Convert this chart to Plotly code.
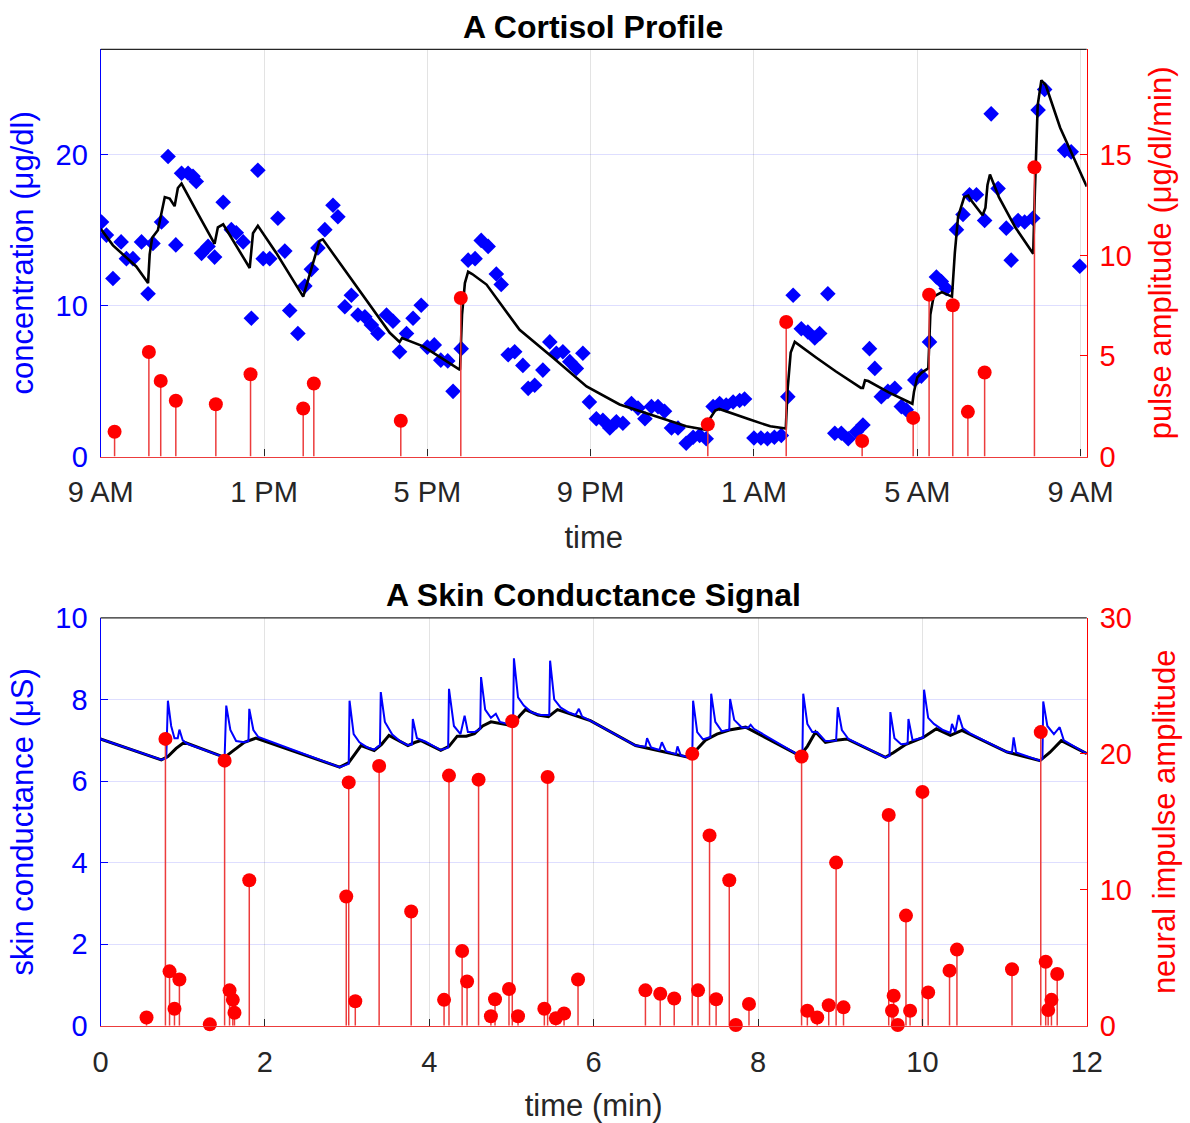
import plotly.graph_objects as go

# ---------------- Top panel data (hours after 9 AM) ----------------
cort_t = [0.02, 0.14, 0.30, 0.50, 0.63, 0.79, 1.00, 1.16, 1.28, 1.49, 1.65, 1.84, 1.98, 2.14, 2.26, 2.34,
          2.47, 2.63, 2.79, 3.00, 3.20, 3.32, 3.49, 3.69, 3.85, 3.98, 4.14, 4.34, 4.51, 4.63, 4.83, 5.00,
          5.16, 5.32, 5.49, 5.69, 5.81, 5.98, 6.14, 6.30, 6.47, 6.63, 6.79, 7.00, 7.16, 7.32, 7.49, 7.65,
          7.85, 8.00, 8.17, 8.33, 8.50, 8.63, 8.83, 9.00, 9.17, 9.32, 9.49, 9.69, 9.81, 9.98, 10.14, 10.34,
          10.47, 10.63, 10.83, 11.00, 11.16, 11.32, 11.49, 11.65, 11.81, 11.97, 12.14, 12.30, 12.47, 12.63,
          12.79, 13.00, 13.16, 13.33, 13.49, 13.65, 13.81, 13.98, 14.14, 14.34, 14.51, 14.67, 14.83, 15.00,
          15.16, 15.32, 15.49, 15.65, 15.77, 16.00, 16.17, 16.33, 16.50, 16.67, 16.83, 16.96, 17.16, 17.32,
          17.49, 17.61, 17.81, 17.98, 18.14, 18.31, 18.51, 18.67, 18.83, 18.96, 19.12, 19.28, 19.45, 19.61,
          19.73, 19.94, 20.10, 20.30, 20.47, 20.59, 20.71, 20.96, 21.12, 21.28, 21.45, 21.65, 21.81, 21.98,
          22.18, 22.30, 22.47, 22.63, 22.83, 22.96, 23.12, 23.61, 23.77, 23.98]
cort_c = [15.55, 14.68, 11.80, 14.23, 13.12, 13.12, 14.23, 10.79, 14.13, 15.55, 19.89, 14.03, 18.78, 18.78, 18.58, 18.23,
          13.47, 13.93, 13.22, 16.86, 15.04, 14.84, 14.23, 9.17, 18.98, 13.12, 13.12, 15.80, 13.62, 9.68, 8.16, 11.30,
          12.41, 13.83, 15.04, 16.66, 15.90, 9.93, 10.69, 9.38, 9.27, 8.72, 8.16, 9.38, 8.97, 6.95, 8.16, 9.17,
          10.03, 7.25, 7.40, 6.39, 6.34, 4.32, 7.15, 13.02, 13.12, 14.33, 13.93, 12.10, 11.40, 6.75, 6.95, 6.04,
          4.52, 4.72, 5.73, 7.60, 6.85, 6.95, 6.29, 5.84, 6.85, 3.61, 2.50, 2.40, 1.89, 2.30,
          2.20, 3.51, 3.21, 2.50, 3.31, 3.31, 3.00, 1.89, 1.89, 0.88, 1.28, 1.39, 1.18, 3.31,
          3.51, 3.41, 3.61, 3.71, 3.81, 1.23, 1.23, 1.18, 1.28, 1.39, 3.97, 10.69, 8.47, 8.26,
          7.86, 8.16, 10.79, 1.54, 1.54, 1.18, 1.64, 2.09, 7.15, 5.84, 3.97, 4.32, 4.52, 3.31,
          3.10, 5.08, 5.33, 7.60, 11.90, 11.60, 11.14, 15.04, 16.05, 17.36, 17.36, 15.65, 22.72, 17.77,
          15.14, 13.02, 15.65, 15.55, 15.80, 22.98, 24.34, 20.30, 20.20, 12.61]

fit_t = [0.00, 0.30, 0.87, 1.16, 1.20, 1.26, 1.40, 1.49, 1.57, 1.69, 1.81, 1.89, 1.98, 2.38, 2.79, 2.87,
         3.00, 3.65, 3.73, 3.85, 4.30, 4.96, 5.12, 5.36, 5.44, 6.26, 7.08, 7.32, 7.38, 7.90, 8.30, 8.80,
         8.85, 8.92, 9.00, 9.10, 9.45, 10.26, 11.08, 11.90, 12.71, 13.53, 14.34, 14.85, 14.92, 15.05, 15.15,
         15.90, 16.40, 16.78, 16.82, 16.90, 17.00, 17.53, 18.00, 18.62, 18.67, 18.72, 18.80, 19.30, 19.88,
         19.92, 20.00, 20.10, 20.27, 20.32, 20.40, 20.60, 20.85, 20.92, 21.00, 21.15, 21.25, 21.30, 21.60,
         21.67, 21.72, 21.78, 22.00, 22.40, 22.84, 22.88, 22.95, 23.04, 23.15, 23.50, 24.15]
fit_c = [15.10, 14.00, 12.60, 11.50, 13.40, 14.50, 15.00, 16.10, 17.20, 17.10, 16.60, 17.80, 18.10, 16.10, 14.10, 15.20,
         15.40, 12.50, 14.80, 15.30, 13.50, 10.60, 12.10, 14.30, 14.40, 11.30, 8.20, 7.60, 7.85, 7.30, 6.60, 5.75,
         9.40, 11.50, 12.25, 12.10, 11.40, 8.40, 6.55, 4.65, 3.45, 2.70, 2.00, 1.75, 2.50, 3.05, 3.15,
         2.45, 2.00, 1.85, 4.30, 6.90, 7.60, 6.55, 5.65, 4.55, 4.55, 5.05, 5.00, 4.25, 3.50,
         4.30, 5.25, 5.55, 5.85, 9.40, 10.60, 10.90, 10.60, 13.50, 15.90, 17.20, 17.30, 17.05, 16.00,
         16.50, 18.00, 18.70, 17.20, 15.20, 13.45, 17.50, 23.30, 24.95, 24.60, 21.80, 17.90]

pulse_t = [0.34, 1.18, 1.47, 1.84, 2.82, 3.67, 4.96, 5.22, 7.35, 8.82, 14.87, 16.79, 18.65, 19.90,
           20.29, 20.87, 21.24, 21.65, 22.87]
pulse_a = [1.23, 5.20, 3.76, 2.77, 2.60, 4.09, 2.39, 3.63, 1.78, 7.88, 1.60, 6.69, 0.77, 1.92,
           8.05, 7.52, 2.22, 4.18, 14.38]

hour_ticks = [0, 4, 8, 12, 16, 20, 24]
hour_labels = ["9 AM", "1 PM", "5 PM", "9 PM", "1 AM", "5 AM", "9 AM"]

# ---------------- Bottom panel data (minutes) ----------------
sc_t = [0.00, 0.74, 0.80, 0.82, 0.86, 0.90, 0.94, 0.96, 1.00, 1.05, 1.51, 1.53, 1.58, 1.65, 1.75, 1.80,
        1.81, 1.86, 1.92, 2.00, 2.91, 3.02, 3.03, 3.08, 3.15, 3.25, 3.33, 3.40, 3.41, 3.46, 3.55, 3.65,
        3.74, 3.79, 3.80, 3.85, 3.95, 4.14, 4.23, 4.24, 4.30, 4.38, 4.43, 4.47, 4.55, 4.62, 4.63, 4.68,
        4.75, 4.81, 4.86, 5.01, 5.02, 5.03, 5.08, 5.15, 5.25, 5.35, 5.46, 5.47, 5.52, 5.60, 5.70, 5.78,
        5.82, 5.86, 5.96, 6.51, 6.63, 6.65, 6.70, 6.80, 6.83, 6.88, 7.00, 7.02, 7.06, 7.16, 7.20, 7.21,
        7.26, 7.33, 7.42, 7.43, 7.48, 7.56, 7.65, 7.66, 7.71, 7.80, 7.88, 7.91, 7.95, 8.51, 8.54, 8.55,
        8.60, 8.66, 8.72, 8.82, 8.95, 8.97, 9.02, 9.10, 9.55, 9.60, 9.61, 9.66, 9.74, 9.82, 9.83, 9.88,
        9.98, 10.01, 10.02, 10.07, 10.14, 10.25, 10.34, 10.36, 10.40, 10.44, 10.49, 10.58, 11.03, 11.09,
        11.11, 11.14, 11.43, 11.46, 11.47, 11.52, 11.60, 11.67, 11.72, 11.85, 12.00]
sc_v = [7.03, 6.52, 6.56, 7.97, 7.35, 7.05, 7.05, 7.26, 7.00, 6.92, 6.58, 7.85, 7.25, 6.98, 6.95, 6.98,
        7.77, 7.25, 7.08, 7.02, 6.34, 6.42, 7.97, 7.15, 6.95, 6.82, 6.77, 6.88, 8.18, 7.45, 7.14, 6.97,
        6.88, 6.90, 7.52, 7.05, 6.97, 6.76, 6.82, 8.26, 7.35, 7.15, 7.60, 7.20, 7.20, 7.28, 8.55, 7.75,
        7.55, 7.65, 7.45, 7.37, 7.40, 9.01, 8.05, 7.85, 7.68, 7.62, 7.62, 8.95, 8.00, 7.80, 7.68, 7.62,
        7.77, 7.58, 7.48, 6.87, 6.84, 7.05, 6.82, 6.76, 6.95, 6.73, 6.66, 6.85, 6.63, 6.58, 6.62, 7.97,
        7.20, 7.02, 7.08, 8.14, 7.45, 7.22, 7.26, 8.01, 7.50, 7.32, 7.31, 7.38, 7.28, 6.62, 6.66, 8.14,
        7.40, 7.20, 7.20, 6.98, 6.99, 7.81, 7.25, 7.03, 6.58, 6.62, 7.69, 7.05, 6.90, 6.92, 7.52, 7.00,
        7.05, 7.07, 8.24, 7.55, 7.40, 7.25, 7.18, 7.40, 7.20, 7.62, 7.30, 7.17, 6.71, 6.70,
        7.07, 6.70, 6.50, 6.55, 7.95, 7.35, 7.15, 7.32, 7.00, 6.85, 6.67]

scfit_t = [0.00, 0.74, 0.82, 0.92, 1.02, 1.51, 1.60, 1.75, 1.89, 2.91, 3.02, 3.17, 3.33, 3.42, 3.51, 3.74,
           3.83, 3.90, 4.14, 4.24, 4.34, 4.45, 4.55, 4.65, 4.75, 4.85, 5.01, 5.10, 5.17, 5.32, 5.45, 5.56,
           5.75, 5.96, 6.51, 7.16, 7.22, 7.36, 7.50, 7.65, 7.85, 8.51, 8.60, 8.70, 8.82, 8.95, 9.08, 9.55,
           9.65, 9.80, 10.01, 10.17, 10.34, 10.48, 11.03, 11.43, 11.55, 11.69, 12.00]
scfit_v = [7.03, 6.52, 6.60, 6.80, 6.95, 6.58, 6.72, 6.95, 7.05, 6.34, 6.45, 6.87, 6.75, 6.90, 7.12, 6.87,
           6.95, 6.99, 6.75, 6.85, 7.10, 7.10, 7.16, 7.35, 7.45, 7.42, 7.36, 7.60, 7.75, 7.62, 7.58, 7.75,
           7.62, 7.48, 6.87, 6.58, 6.70, 7.00, 7.15, 7.25, 7.32, 6.62, 6.85, 7.20, 6.95, 7.00, 7.03, 6.58,
           6.70, 6.90, 7.07, 7.28, 7.12, 7.24, 6.71, 6.50, 6.70, 6.99, 6.67]

imp_t = [0.56, 0.79, 0.84, 0.90, 0.96, 1.33, 1.51, 1.57, 1.61, 1.63, 1.81, 2.99, 3.02, 3.10, 3.39, 3.78,
         4.18, 4.24, 4.40, 4.46, 4.60, 4.75, 4.80, 4.97, 5.01, 5.08, 5.40, 5.44, 5.54, 5.64, 5.81, 6.63,
         6.81, 6.98, 7.20, 7.27, 7.41, 7.49, 7.65, 7.73, 7.89, 8.53, 8.60, 8.72, 8.86, 8.95, 9.04, 9.59,
         9.63, 9.65, 9.70, 9.80, 9.85, 10.00, 10.07, 10.33, 10.42, 11.09, 11.44, 11.50, 11.53, 11.57, 11.64]
imp_a = [0.60, 21.1, 4.00, 1.25, 3.40, 0.10, 19.5, 2.60, 1.90, 0.95, 10.7, 9.50, 17.9, 1.80, 19.1, 8.40,
         1.90, 18.4, 5.50, 3.25, 18.1, 0.70, 1.95, 2.70, 22.4, 0.70, 1.25, 18.3, 0.55, 0.90, 3.40, 2.60,
         2.35, 2.00, 20.0, 2.60, 14.0, 1.95, 10.7, 0.05, 1.60, 19.8, 1.10, 0.60, 1.50, 12.0, 1.35, 15.5,
         1.10, 2.20, 0.05, 8.10, 1.10, 17.2, 2.45, 4.05, 5.60, 4.15, 21.6, 4.70, 1.15, 1.90, 3.80]

# ---------------- styling ----------------
BLUE = "#0000ff"
RED = "#ff0000"
STEM = "rgb(236,60,60)"
DARK = "#262626"
FONT = "Liberation Sans, Arial, Helvetica, sans-serif"
TICK = 29
LAB = 31
TTL = 32


def stem_xy(xs, ys):
    sx, sy = [], []
    for x, y in zip(xs, ys):
        sx += [x, x, None]
        sy += [0, y, None]
    return sx, sy


fig = go.Figure()

# top panel
fig.add_trace(go.Scatter(x=cort_t, y=cort_c, mode="markers", xaxis="x", yaxis="y",
                         marker=dict(symbol="diamond", size=12, color=BLUE, line=dict(width=0)),
                         showlegend=False))
fig.add_trace(go.Scatter(x=fit_t, y=fit_c, mode="lines", xaxis="x", yaxis="y",
                         line=dict(color="black", width=2.6), showlegend=False))
px_, py_ = stem_xy(pulse_t, pulse_a)
fig.add_trace(go.Scatter(x=px_, y=py_, mode="lines", xaxis="x", yaxis="y2",
                         line=dict(color=STEM, width=1.5), showlegend=False))
fig.add_trace(go.Scatter(x=pulse_t, y=pulse_a, mode="markers", xaxis="x", yaxis="y2",
                         marker=dict(size=14, color=RED), cliponaxis=False, showlegend=False))

# bottom panel
fig.add_trace(go.Scatter(x=scfit_t, y=scfit_v, mode="lines", xaxis="x2", yaxis="y3",
                         line=dict(color="black", width=3), showlegend=False))
fig.add_trace(go.Scatter(x=sc_t, y=sc_v, mode="lines", xaxis="x2", yaxis="y3",
                         line=dict(color=BLUE, width=2), showlegend=False))
ix_, iy_ = stem_xy(imp_t, imp_a)
fig.add_trace(go.Scatter(x=ix_, y=iy_, mode="lines", xaxis="x2", yaxis="y4",
                         line=dict(color=STEM, width=1.5), showlegend=False))
fig.add_trace(go.Scatter(x=imp_t, y=imp_a, mode="markers", xaxis="x2", yaxis="y4",
                         marker=dict(size=14, color=RED), cliponaxis=False, showlegend=False))

W, H = 1190, 1123
top_x = [100.7 / W, 1086.7 / W]
top_y = [1 - 456.5 / H, 1 - 49.3 / H]
bot_x = [100.5 / W, 1086.8 / W]
bot_y = [1 - 1025.7 / H, 1 - 617.9 / H]

xcommon = dict(showline=True, linecolor=STEM, linewidth=1.2, ticks="inside", ticklen=7,
               tickcolor=DARK, showgrid=True, gridcolor="rgba(38,38,38,0.13)", gridwidth=1,
               zeroline=False, tickfont=dict(family=FONT, size=TICK, color=DARK),
               ticklabelstandoff=10, automargin=False)
yleft = dict(showline=True, linecolor=BLUE, linewidth=1.2, ticks="inside", ticklen=7,
             tickcolor=BLUE, showgrid=True, gridcolor="rgba(0,0,255,0.13)", gridwidth=1,
             zeroline=False, tickfont=dict(family=FONT, size=TICK, color=BLUE),
             ticklabelstandoff=6, automargin=False)
yright = dict(showline=True, linecolor=RED, linewidth=1.2, ticks="inside", ticklen=7,
              tickcolor=RED, showgrid=False, zeroline=False,
              tickfont=dict(family=FONT, size=TICK, color=RED), ticklabelstandoff=6,
              automargin=False)

fig.update_layout(
    width=W, height=H, margin=dict(l=0, r=0, t=0, b=0),
    paper_bgcolor="white", plot_bgcolor="white",
    font=dict(family=FONT),
    xaxis=dict(domain=top_x, anchor="y", range=[0, 24.15], tickvals=hour_ticks, ticktext=hour_labels,
               title=dict(text="time", font=dict(size=LAB, color=DARK), standoff=18), **xcommon),
    yaxis=dict(domain=top_y, anchor="x", range=[0, 27], tickvals=[0, 10, 20],
               title=dict(text="concentration (μg/dl)", font=dict(size=LAB, color=BLUE), standoff=12), **yleft),
    yaxis2=dict(overlaying="y", anchor="x", side="right", range=[0, 20.25], tickvals=[0, 5, 10, 15],
                title=dict(text="pulse amplitude (μg/dl/min)", font=dict(size=LAB, color=RED), standoff=18), **yright),
    xaxis2=dict(domain=bot_x, anchor="y3", range=[0, 12], tickvals=[0, 2, 4, 6, 8, 10, 12],
                title=dict(text="time (min)", font=dict(size=LAB, color=DARK), standoff=18), **xcommon),
    yaxis3=dict(domain=bot_y, anchor="x2", range=[0, 10], tickvals=[0, 2, 4, 6, 8, 10],
                title=dict(text="skin conductance (μS)", font=dict(size=LAB, color=BLUE), standoff=12), **yleft),
    yaxis4=dict(overlaying="y3", anchor="x2", side="right", range=[0, 30], tickvals=[0, 10, 20, 30],
                title=dict(text="neural impulse amplitude", font=dict(size=LAB, color=RED), standoff=22), **yright),
    annotations=[
        dict(text="<b>A Cortisol Profile</b>", x=593 / W, y=1 - 27 / H, xref="paper", yref="paper",
             xanchor="center", yanchor="middle", showarrow=False, font=dict(size=TTL, color="black", family=FONT)),
        dict(text="<b>A Skin Conductance Signal</b>", x=593 / W, y=1 - 595 / H, xref="paper", yref="paper",
             xanchor="center", yanchor="middle", showarrow=False, font=dict(size=TTL, color="black", family=FONT)),
    ],
    shapes=[
        dict(type="line", xref="x domain", yref="y domain", x0=0, x1=1, y0=1, y1=1,
             line=dict(color=DARK, width=1.2)),
        dict(type="line", xref="x2 domain", yref="y3 domain", x0=0, x1=1, y0=1, y1=1,
             line=dict(color=DARK, width=1.2)),
    ],
)

fig.write_html("out.html", config={"displayModeBar": False},
               post_script="document.body.style.margin='0';document.body.style.padding='0';")
